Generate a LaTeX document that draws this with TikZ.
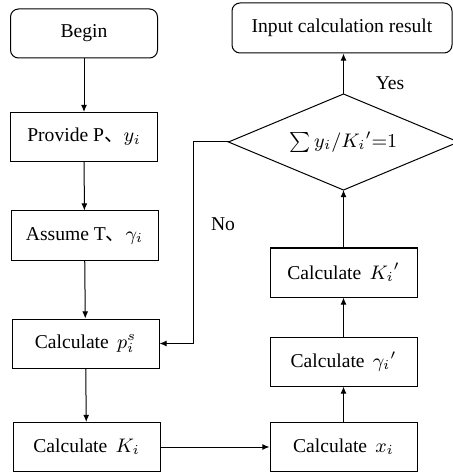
\documentclass[tikz,border=0pt]{standalone}
\usepackage{fix-cm}
\usepackage{fontspec}
\setmainfont{Liberation Serif}
\newfontfamily\cjk{Noto Sans CJK SC}
\usetikzlibrary{shapes.geometric,arrows.meta}
\begin{document}
\begin{tikzpicture}[x=0.5pt,y=-0.5pt,
  every node/.style={font=\fontsize{9.8}{12}\selectfont},
  box/.style={draw,line width=0.5pt,minimum width=73.5pt,minimum height=24.5pt,inner sep=0pt},
  rbox/.style={box,rounded corners=4pt},
  arr/.style={line width=0.5pt,-{Latex[length=3.6pt,width=3pt]}},
  lbl/.style={inner sep=0pt}]
\useasboundingbox (0,0) rectangle (453,475);
\node[rbox] (begin) at (84,33.5) {Begin};
\node[box] (provide) at (84,137) {Provide P{\cjk 、}$y_i$};
\node[box] (assume) at (84.5,235.5) {Assume T{\cjk 、}$\gamma_i$};
\node[box] (calcP) at (85.5,343.5) {Calculate\, $p_i^s$};
\node[box] (calcK) at (86.5,447) {Calculate\, $K_i$};
\node[box] (calcx) at (343.5,447) {Calculate\, $x_i$};
\node[box] (calcg) at (343.5,361.5) {Calculate\, ${\gamma_i}'$};
\node[box] (calcKp) at (343.5,272.5) {Calculate\, ${K_i}'$};
\coordinate (dn) at (343.5,94);
\coordinate (ds) at (343.5,190);
\coordinate (dw) at (228.5,142);
\coordinate (de) at (458.5,142);
\draw[line width=0.5pt] (dn) -- (de) -- (ds) -- (dw) -- cycle;
\node[lbl] (dia) at (343.5,142) {$\sum y_i/{K_i}'{=}1$};
\node[rbox,minimum width=110pt,minimum height=25pt] (input) at (342,28) {Input calculation result};
\coordinate (turn) at (193,142);
\draw[arr] (begin) -- (provide);
\draw[arr] (provide) -- (assume);
\draw[arr] (assume) -- (calcP);
\draw[arr] (calcP) -- (calcK);
\draw[arr] (calcK) -- (calcx);
\draw[arr] (calcx) -- (calcg);
\draw[arr] (calcg) -- (calcKp);
\draw[arr] (calcKp) -- (ds);
\draw[arr] (dn) -- (input.south -| dn);
\draw[arr] (dw) -- (turn) |- (calcP.east);
\node[lbl] (no) at (223,224) {No};
\node[lbl] (yes) at (390,83) {Yes};
\end{tikzpicture}
\end{document}
